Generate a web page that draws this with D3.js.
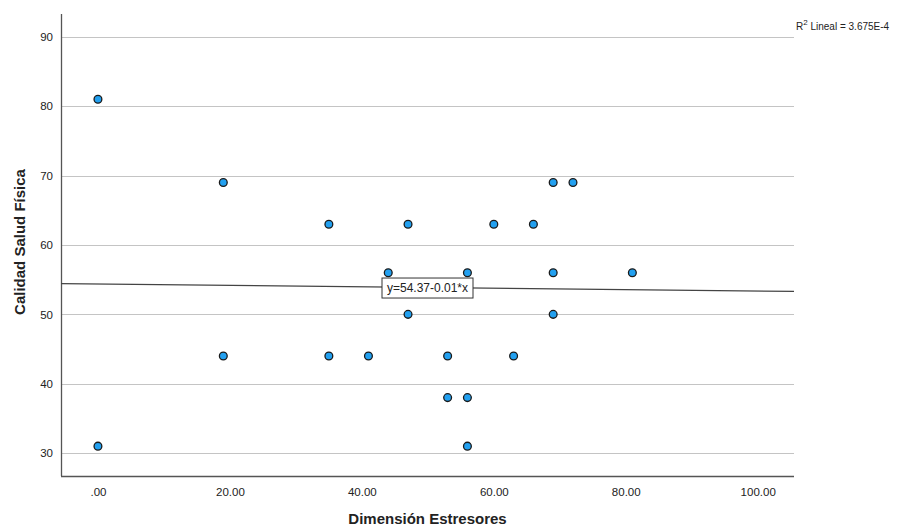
<!DOCTYPE html>
<html>
<head>
<meta charset="utf-8">
<script src="https://cdn.jsdelivr.net/npm/d3@7"></script>
<style>
	body { margin: 0; background: #fff; }
	svg { display: block; font-family: Arial, "Liberation Sans", sans-serif; }
</style>
</head>
<body>
<div id="chart"></div>
<script>
// Data
const estresores = [ 0, 0, 19, 19, 35, 35, 41, 44, 47, 47, 53, 53, 56, 56, 56, 60, 63, 66, 69, 69, 69, 72, 81 ];
const saludFisica = [ 81, 31, 69, 44, 63, 44, 44, 56, 63, 50, 44, 38, 56, 38, 31, 63, 44, 63, 69, 56, 50, 69, 56 ];
const xTicks = [ 0, 20, 40, 60, 80, 100 ];
const yTicks = [ 30, 40, 50, 60, 70, 80, 90 ];
const fitIntercept = 54.37;
const fitSlope = -0.01;
const fitLabel = 'y=54.37-0.01*x';
const r2Value = '3.675E-4';

const width = 901;
const height = 529;
const plot = { left: 61, right: 794, top: 14, bottom: 476 };

const svg = d3.select( '#chart' )
	.append( 'svg' )
	.attr( 'width', width )
	.attr( 'height', height );

const x = d3.scaleLinear()
	.domain( [ -5.6, 105.5 ] )
	.range( [ plot.left, plot.right ] );

const y = d3.scaleLinear()
	.domain( [ 26.7, 93.3 ] )
	.range( [ plot.bottom, plot.top ] );

// grid lines
svg.append( 'g' )
	.selectAll( 'line' )
	.data( yTicks )
	.enter()
	.append( 'line' )
	.attr( 'x1', plot.left )
	.attr( 'x2', plot.right )
	.attr( 'y1', ( d ) => Math.round( y( d ) ) + 0.5 )
	.attr( 'y2', ( d ) => Math.round( y( d ) ) + 0.5 )
	.attr( 'stroke', '#c4c4c4' )
	.attr( 'stroke-width', 1 );

// y axis
const yAxis = svg.append( 'g' )
	.attr( 'transform', `translate(${ plot.left },0)` )
	.call( d3.axisLeft( y ).tickValues( yTicks ).tickSize( 0 ).tickPadding( 8 ) );
yAxis.select( '.domain' ).remove();
yAxis.selectAll( 'text' )
	.style( 'font-size', '11.5px' )
	.style( 'fill', '#222' );

// x axis
const xAxis = svg.append( 'g' )
	.attr( 'transform', `translate(0,${ plot.bottom })` )
	.call( d3.axisBottom( x ).tickValues( xTicks ).tickSize( 0 ).tickPadding( 12 )
		.tickFormat( ( d ) => ( d === 0 ? '.00' : d3.format( '.2f' )( d ) ) ) );
xAxis.select( '.domain' ).remove();
xAxis.selectAll( 'text' )
	.style( 'font-size', '11.5px' )
	.style( 'fill', '#222' );

// axis lines
svg.append( 'line' )
	.attr( 'x1', plot.left + 0.5 ).attr( 'x2', plot.left + 0.5 )
	.attr( 'y1', plot.top ).attr( 'y2', plot.bottom )
	.attr( 'stroke', '#555' ).attr( 'stroke-width', 1.3 );
svg.append( 'line' )
	.attr( 'x1', plot.left ).attr( 'x2', plot.right )
	.attr( 'y1', plot.bottom + 0.5 ).attr( 'y2', plot.bottom + 0.5 )
	.attr( 'stroke', '#555' ).attr( 'stroke-width', 1.3 );

// fit line
const [ x0, x1 ] = x.domain();
svg.append( 'line' )
	.attr( 'x1', x( x0 ) )
	.attr( 'x2', x( x1 ) )
	.attr( 'y1', y( fitIntercept + fitSlope * x0 ) )
	.attr( 'y2', y( fitIntercept + fitSlope * x1 ) )
	.attr( 'stroke', '#444' )
	.attr( 'stroke-width', 1.2 );

// points
svg.append( 'g' )
	.selectAll( 'circle' )
	.data( estresores.map( ( d, i ) => ( { x: d, y: saludFisica[ i ] } ) ) )
	.enter()
	.append( 'circle' )
	.attr( 'cx', ( d ) => x( d.x ) )
	.attr( 'cy', ( d ) => y( d.y ) )
	.attr( 'r', 3.9 )
	.attr( 'fill', '#22a0f0' )
	.attr( 'stroke', '#1a1a1a' )
	.attr( 'stroke-width', 1.3 );

// fit equation label
const midX = ( x0 + x1 ) / 2;
const labelG = svg.append( 'g' )
	.attr( 'transform', `translate(${ x( midX ) },${ y( fitIntercept + fitSlope * midX ) })` );
labelG.append( 'rect' )
	.attr( 'x', -45.5 )
	.attr( 'y', -9.5 )
	.attr( 'width', 91 )
	.attr( 'height', 20 )
	.attr( 'fill', '#fff' )
	.attr( 'stroke', '#333' )
	.attr( 'stroke-width', 1 );
labelG.append( 'text' )
	.attr( 'text-anchor', 'middle' )
	.attr( 'dy', '0.38em' )
	.style( 'font-size', '12px' )
	.style( 'fill', '#222' )
	.text( fitLabel );

// R2 annotation
const r2 = svg.append( 'text' )
	.attr( 'x', 796 )
	.attr( 'y', 30 )
	.style( 'font-size', '10px' )
	.style( 'fill', '#222' );
r2.append( 'tspan' ).text( 'R' );
r2.append( 'tspan' ).attr( 'dy', -5 ).style( 'font-size', '8px' ).text( '2' );
r2.append( 'tspan' ).attr( 'dy', 5 ).text( ` Lineal = ${ r2Value }` );

// axis titles
svg.append( 'text' )
	.attr( 'x', ( plot.left + plot.right ) / 2 )
	.attr( 'y', 524 )
	.attr( 'text-anchor', 'middle' )
	.style( 'font-size', '15px' )
	.style( 'font-weight', 'bold' )
	.style( 'fill', '#222' )
	.text( 'Dimensión Estresores' );

svg.append( 'text' )
	.attr( 'transform', 'translate(25,242) rotate(-90)' )
	.attr( 'text-anchor', 'middle' )
	.style( 'font-size', '15px' )
	.style( 'font-weight', 'bold' )
	.style( 'fill', '#222' )
	.text( 'Calidad Salud Física' );
</script>
</body>
</html>
